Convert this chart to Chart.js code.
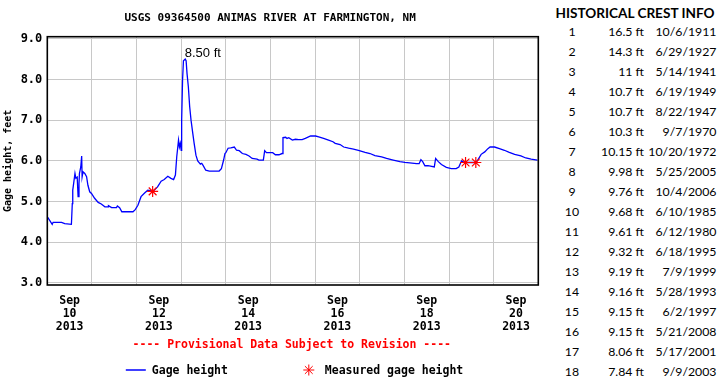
<!DOCTYPE html>
<html><head><meta charset="utf-8">
<script src="https://cdn.jsdelivr.net/npm/chart.js@4.4.1/dist/chart.umd.min.js"></script>
<style>
html,body{margin:0;padding:0;background:#fff;width:720px;height:380px;overflow:hidden}
#wrap{position:absolute;left:0;top:0;width:545px;height:380px}
#crest{position:absolute;left:550px;top:0;width:170px;height:380px;font-family:Lato,"Open Sans",sans-serif;color:#000}
#crest .hd{position:absolute;left:0;width:170px;top:2.5px;text-align:center;font-weight:bold;font-size:13.6px;line-height:20px}
#crest .c{position:absolute;font-size:12.3px;line-height:20px;white-space:nowrap}
</style></head>
<body>
<div id="wrap"><canvas id="c" width="545" height="380"></canvas></div>
<div id="crest"></div>
<script>
// Gage height time series: days since Sep 10 2013 00:00, feet
const gageDays = [-0.49,-0.39,-0.37,-0.18,-0.11,0.04,0.06,0.07,0.08,0.12,0.14,0.17,0.19,0.21,0.22,0.25,0.27,0.28,0.30,0.34,0.38,0.41,0.45,0.49,0.56,0.64,0.71,0.79,0.86,0.87,0.94,1.05,1.07,1.12,1.17,1.42,1.47,1.53,1.60,1.68,1.75,1.83,1.86,1.97,2.05,2.12,2.20,2.27,2.33,2.37,2.40,2.44,2.46,2.48,2.50,2.51,2.53,2.55,2.59,2.61,2.63,2.66,2.69,2.72,2.76,2.79,2.83,2.87,2.93,2.96,2.99,3.05,3.13,3.35,3.40,3.45,3.48,3.50,3.55,3.61,3.69,3.74,3.80,3.87,3.95,4.02,4.09,4.20,4.24,4.34,4.37,4.41,4.50,4.55,4.61,4.69,4.76,4.78,4.84,4.87,4.91,4.99,5.06,5.13,5.21,5.28,5.40,5.51,5.58,5.69,5.80,5.90,5.95,6.06,6.14,6.25,6.36,6.47,6.62,6.73,6.84,6.99,7.10,7.25,7.40,7.51,7.62,7.77,7.83,7.87,7.91,7.96,8.03,8.17,8.20,8.26,8.33,8.44,8.55,8.66,8.72,8.78,8.81,8.87,8.98,9.10,9.15,9.22,9.30,9.37,9.42,9.52,9.63,9.74,9.85,9.97,10.11,10.22,10.34,10.48];
const gageFeet = [4.61,4.44,4.49,4.49,4.46,4.44,4.95,5.28,5.36,5.69,5.57,5.60,5.12,5.44,5.69,5.85,6.12,5.61,5.73,5.69,5.61,5.40,5.24,5.20,5.08,4.98,4.94,4.87,4.87,4.90,4.85,4.85,4.89,4.85,4.75,4.75,4.80,4.91,5.12,5.21,5.28,5.26,5.24,5.36,5.50,5.54,5.62,5.57,5.54,5.65,6.10,6.51,6.34,6.43,6.26,7.00,7.98,8.46,8.50,8.46,8.15,7.82,7.33,7.00,6.67,6.43,6.14,6.00,5.92,5.94,5.89,5.77,5.75,5.75,5.81,6.02,6.18,6.20,6.31,6.32,6.34,6.26,6.25,6.18,6.16,6.12,6.06,6.04,6.02,6.02,6.25,6.20,6.20,6.20,6.15,6.15,6.18,6.57,6.58,6.55,6.57,6.51,6.53,6.52,6.52,6.55,6.61,6.61,6.59,6.55,6.51,6.47,6.43,6.40,6.34,6.31,6.29,6.26,6.21,6.18,6.13,6.10,6.06,6.02,5.98,5.96,5.95,5.93,5.93,6.03,5.98,5.88,5.88,5.85,6.06,5.98,5.91,5.84,5.81,5.81,5.85,6.00,5.98,5.96,5.96,5.96,6.03,6.16,6.22,6.30,6.34,6.34,6.30,6.26,6.21,6.16,6.12,6.07,6.04,6.02];
// Measured gage heights
const measuredDays = [1.86, 8.87, 9.10];
const measuredFeet = [5.25, 5.96, 5.96];
// Axis ticks
const yTicks = [3, 4, 5, 6, 7, 8, 9];
const xTickDays = [0, 1, 2, 3, 4, 5, 6, 7, 8, 9, 10];
const xLabelDays = [0, 2, 4, 6, 8, 10];
const xLabelText = [["Sep","10","2013"],["Sep","12","2013"],["Sep","14","2013"],["Sep","16","2013"],["Sep","18","2013"],["Sep","20","2013"]];
// Historical crest info
const crestRank = [1,2,3,4,5,6,7,8,9,10,11,12,13,14,15,16,17,18];
const crestFeet = ["16.5","14.3","11","10.7","10.7","10.3","10.15","9.98","9.76","9.68","9.61","9.32","9.19","9.16","9.15","9.15","8.06","7.84"];
const crestDate = ["10/6/1911","6/29/1927","5/14/1941","6/19/1949","8/22/1947","9/7/1970","10/20/1972","5/25/2005","10/4/2006","6/10/1985","6/12/1980","6/18/1995","7/9/1999","5/28/1993","6/2/1997","5/21/2008","5/17/2001","9/9/2003"];

const MONO = '"DejaVu Sans Mono", monospace';
const SUBTITLE = '---- Provisional Data Subject to Revision ----';

// crest table (HTML text)
const crest = document.getElementById('crest');
const hd = document.createElement('div'); hd.className = 'hd'; hd.textContent = 'HISTORICAL CREST INFO'; crest.appendChild(hd);
crestRank.forEach((r, i) => {
  const top = 22.3 + 20 * i;
  const a = document.createElement('div'); a.className = 'c'; a.style.top = top + 'px'; a.style.left = '2px'; a.style.width = '40px'; a.style.textAlign = 'center'; a.textContent = r; crest.appendChild(a);
  const b = document.createElement('div'); b.className = 'c'; b.style.top = top + 'px'; b.style.right = (170 - 94) + 'px'; b.textContent = crestFeet[i] + ' ft'; crest.appendChild(b);
  const d = document.createElement('div'); d.className = 'c'; d.style.top = top + 'px'; d.style.right = '3.5px'; d.textContent = crestDate[i]; crest.appendChild(d);
});

const framePlugin = {
  id: 'frame',
  afterDatasetsDraw(chart) {
    const {ctx, chartArea: a} = chart;
    ctx.save(); ctx.strokeStyle = '#000'; ctx.lineWidth = 1.6;
    ctx.strokeRect(a.left, a.top, a.right - a.left, a.bottom - a.top);
    ctx.restore();
  }
};
const peakPlugin = {
  id: 'peak',
  afterDatasetsDraw(chart) {
    let mi = 0; gageFeet.forEach((v, i) => { if (v > gageFeet[mi]) mi = i; });
    const px = chart.scales.x.getPixelForValue(gageDays[mi]);
    const py = chart.scales.y.getPixelForValue(gageFeet[mi]);
    const ctx = chart.ctx; ctx.save();
    ctx.font = '13px "Liberation Sans", Arial, sans-serif'; ctx.fillStyle = '#000';
    ctx.textAlign = 'left'; ctx.textBaseline = 'alphabetic';
    ctx.fillText(gageFeet[mi].toFixed(2) + ' ft', px - 0.5, py - 2.5);
    ctx.restore();
  }
};
const footerPlugin = {
  id: 'footer',
  afterDraw(chart) {
    const {ctx, chartArea: a} = chart;
    const ds = chart.data.datasets;
    const cx = (a.left + a.right) / 2;
    ctx.save();
    ctx.textBaseline = 'middle';
    // provisional data note
    ctx.font = 'bold 11.5px ' + MONO; ctx.fillStyle = '#ff0000'; ctx.textAlign = 'center';
    ctx.fillText(SUBTITLE, cx - 1, 345);
    // legend
    const y = 371, x0 = cx - 167;
    ctx.strokeStyle = ds[1].borderColor; ctx.lineWidth = 1.5;
    ctx.beginPath(); ctx.moveTo(x0, y - 1); ctx.lineTo(x0 + 20, y - 1); ctx.stroke();
    ctx.fillStyle = '#000'; ctx.textAlign = 'left';
    ctx.fillText(ds[1].label, x0 + 26, y);
    ctx.strokeStyle = ds[0].borderColor; ctx.lineWidth = 1;
    Chart.helpers.drawPoint(ctx, {pointStyle: 'star', radius: 5.5, borderWidth: 1, rotation: 0}, x0 + 183, y - 1);
    ctx.fillText(ds[0].label, x0 + 199, y);
    ctx.restore();
  }
};

new Chart(document.getElementById('c'), {
  type: 'line',
  data: {
    datasets: [
      { label: 'Measured gage height', data: measuredDays.map((d, i) => ({x: d, y: measuredFeet[i]})),
        showLine: false, pointStyle: 'star', pointRadius: 5.5, pointBorderWidth: 1.2,
        borderColor: '#ff0000', backgroundColor: '#ff0000', order: 0 },
      { label: 'Gage height', data: gageDays.map((d, i) => ({x: d, y: gageFeet[i]})),
        borderColor: '#0000ff', borderWidth: 1.3, pointRadius: 0, tension: 0, fill: false, order: 1 }
    ]
  },
  options: {
    responsive: false, animation: false, devicePixelRatio: 1,
    layout: { padding: { left: 0, right: 4.7, top: 0, bottom: 48 } },
    scales: {
      x: {
        type: 'linear', min: -0.5, max: 10.5,
        afterBuildTicks: s => { s.ticks = xTickDays.map(v => ({value: v})); },
        afterFit: s => { s.height = 47; },
        grid: { offset: true, color: '#c8c8c8', lineWidth: 1, drawTicks: false },
        border: { display: false },
        ticks: { autoSkip: false, maxRotation: 0, padding: 10, color: '#000',
          font: { family: MONO, size: 11.5, weight: 'bold', lineHeight: 1.13 },
          callback: v => { const i = xLabelDays.indexOf(v); return i < 0 ? '' : xLabelText[i]; } }
      },
      y: {
        type: 'linear', min: 2.95, max: 9.05,
        afterBuildTicks: s => { s.ticks = yTicks.map(v => ({value: v})); },
        afterFit: s => { s.width = 47.3; },
        grid: { color: '#c8c8c8', lineWidth: 1, drawTicks: false },
        border: { display: false },
        ticks: { padding: 5, color: '#000', font: { family: MONO, size: 12, weight: 'bold' },
          callback: v => Number(v).toFixed(1) },
        title: { display: true, text: 'Gage height, feet', color: '#000',
          font: { family: MONO, size: 10, weight: 'bold' }, padding: { top: 2, bottom: 0 } }
      }
    },
    plugins: {
      legend: { display: false },
      tooltip: { enabled: false },
      title: { display: true, text: 'USGS 09364500 ANIMAS RIVER AT FARMINGTON, NM', color: '#000',
        font: { family: MONO, size: 11, weight: 'bold', lineHeight: 1.2 }, padding: { top: 12, bottom: 11.5 } }
    }
  },
  plugins: [framePlugin, peakPlugin, footerPlugin]
});
</script>
</body></html>
